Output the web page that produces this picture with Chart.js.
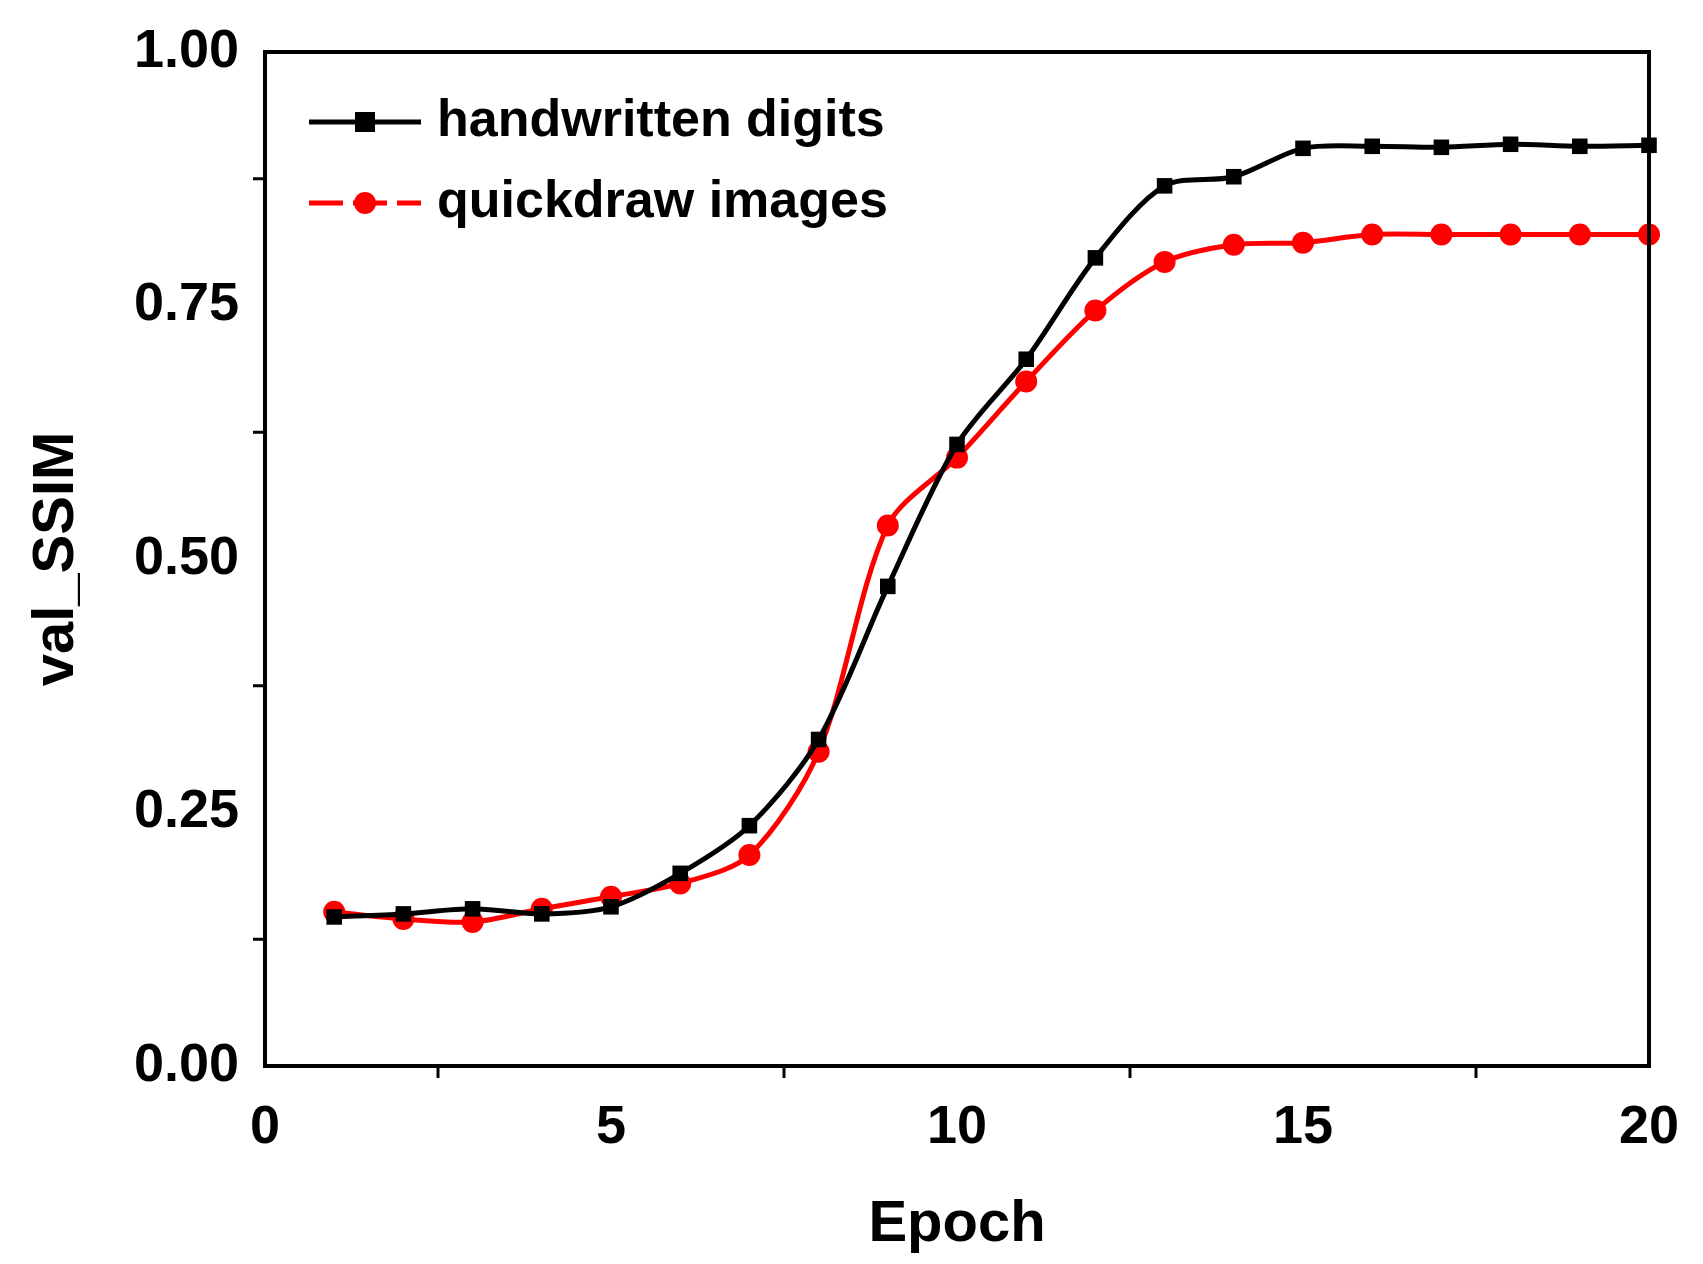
<!DOCTYPE html>
<html>
<head>
<meta charset="utf-8">
<script src="https://cdn.jsdelivr.net/npm/chart.js@4"></script>
<style>
  html, body { margin: 0; padding: 0; background: #fff; }
  #wrap { width: 1703px; height: 1264px; }
</style>
</head>
<body>
<div id="wrap"><canvas id="c" width="1703" height="1264"></canvas></div>
<script>
// epochs and val_SSIM
const epochs = [1, 2, 3, 4, 5, 6, 7, 8, 9, 10, 11, 12, 13, 14, 15, 16, 17, 18, 19, 20];
const handwritten = [0.147, 0.150, 0.155, 0.150, 0.157, 0.190, 0.237, 0.322, 0.473, 0.613,
  0.697, 0.797, 0.868, 0.877, 0.905, 0.907, 0.906, 0.909, 0.907, 0.908];
const quickdraw = [0.152, 0.145, 0.142, 0.155, 0.167, 0.180, 0.208, 0.310, 0.533, 0.600,
  0.675, 0.745, 0.793, 0.810, 0.812, 0.820, 0.820, 0.820, 0.820, 0.820];
const seriesNames = ['handwritten digits', 'quickdraw images'];
const seriesColors = ['#000000', '#ff0000'];
const seriesMarkers = ['rect', 'circle'];

const FONT = 'Liberation Sans, Arial, sans-serif';

// frame on all four sides plus minor ticks
const framePlugin = {
  id: 'frame',
  afterDraw(chart) {
    const { ctx, chartArea: a, scales } = chart;
    ctx.save();
    ctx.strokeStyle = '#000';
    ctx.lineWidth = 4;
    ctx.strokeRect(a.left, a.top, a.right - a.left, a.bottom - a.top);
    ctx.lineWidth = 3;
    for (let v = 2.5; v < 20; v += 5) {
      const x = scales.x.getPixelForValue(v);
      ctx.beginPath(); ctx.moveTo(x, a.bottom); ctx.lineTo(x, a.bottom + 12); ctx.stroke();
    }
    for (let v = 0.125; v < 1; v += 0.25) {
      const y = scales.y.getPixelForValue(v);
      ctx.beginPath(); ctx.moveTo(a.left, y); ctx.lineTo(a.left - 12, y); ctx.stroke();
    }
    ctx.restore();
  }
};

// legend inside the plot, top-left
const legendPlugin = {
  id: 'insideLegend',
  afterDraw(chart) {
    const { ctx, chartArea: a } = chart;
    ctx.save();
    ctx.font = 'bold 52px ' + FONT;
    ctx.textBaseline = 'middle';
    seriesNames.forEach((name, i) => {
      const y = a.top + 70 + i * 81;
      const x0 = a.left + 44;
      ctx.strokeStyle = seriesColors[i];
      ctx.fillStyle = seriesColors[i];
      ctx.lineWidth = 5;
      if (i === 1) ctx.setLineDash([34, 10]);
      ctx.beginPath(); ctx.moveTo(x0, y); ctx.lineTo(x0 + 112, y); ctx.stroke();
      ctx.setLineDash([]);
      const mx = x0 + 56;
      if (seriesMarkers[i] === 'rect') ctx.fillRect(mx - 10, y - 10, 20, 20);
      else { ctx.beginPath(); ctx.arc(mx, y, 11, 0, Math.PI * 2); ctx.fill(); }
      ctx.fillStyle = '#000';
      ctx.fillText(name, x0 + 128, y);
    });
    ctx.restore();
  }
};

const makeSet = (i, data) => ({
  label: seriesNames[i],
  data: epochs.map((e, k) => ({ x: e, y: data[k] })),
  borderColor: seriesColors[i],
  backgroundColor: seriesColors[i],
  borderWidth: 5,
  tension: 0.3,
  pointStyle: seriesMarkers[i],
  pointRadius: 11,
  pointBorderWidth: 0,
});

new Chart(document.getElementById('c'), {
  type: 'line',
  data: { datasets: [makeSet(0, handwritten), makeSet(1, quickdraw)] },
  options: {
    responsive: false,
    animation: false,
    clip: false,
    layout: { padding: { top: 52, right: 54, left: 18, bottom: 0 } },
    plugins: { legend: { display: false }, tooltip: { enabled: false } },
    scales: {
      x: {
        type: 'linear', min: 0, max: 20,
        ticks: { stepSize: 5, color: '#000', font: { family: FONT, size: 54, weight: 'bold' }, padding: 12, maxRotation: 0 },
        grid: { display: false, drawTicks: true, tickLength: 18, tickWidth: 4, tickColor: '#000' },
        border: { display: false },
        title: { display: true, text: 'Epoch', color: '#000', font: { family: FONT, size: 58, weight: 'bold' }, padding: { top: -8 } },
        afterFit(s) { s.height = 1264 - 1066; },
      },
      y: {
        min: 0, max: 1,
        ticks: { stepSize: 0.25, color: '#000', font: { family: FONT, size: 54, weight: 'bold' }, padding: 8,
          callback: (v) => v.toFixed(2) },
        grid: { display: false, drawTicks: true, tickLength: 18, tickWidth: 4, tickColor: '#000' },
        border: { display: false },
        title: { display: true, text: 'val_SSIM', color: '#000', font: { family: FONT, size: 58, weight: 'bold' }, padding: { bottom: 0 } },
        afterFit(s) { s.width = 247; },
      },
    },
  },
  plugins: [framePlugin, legendPlugin],
});
</script>
</body>
</html>
